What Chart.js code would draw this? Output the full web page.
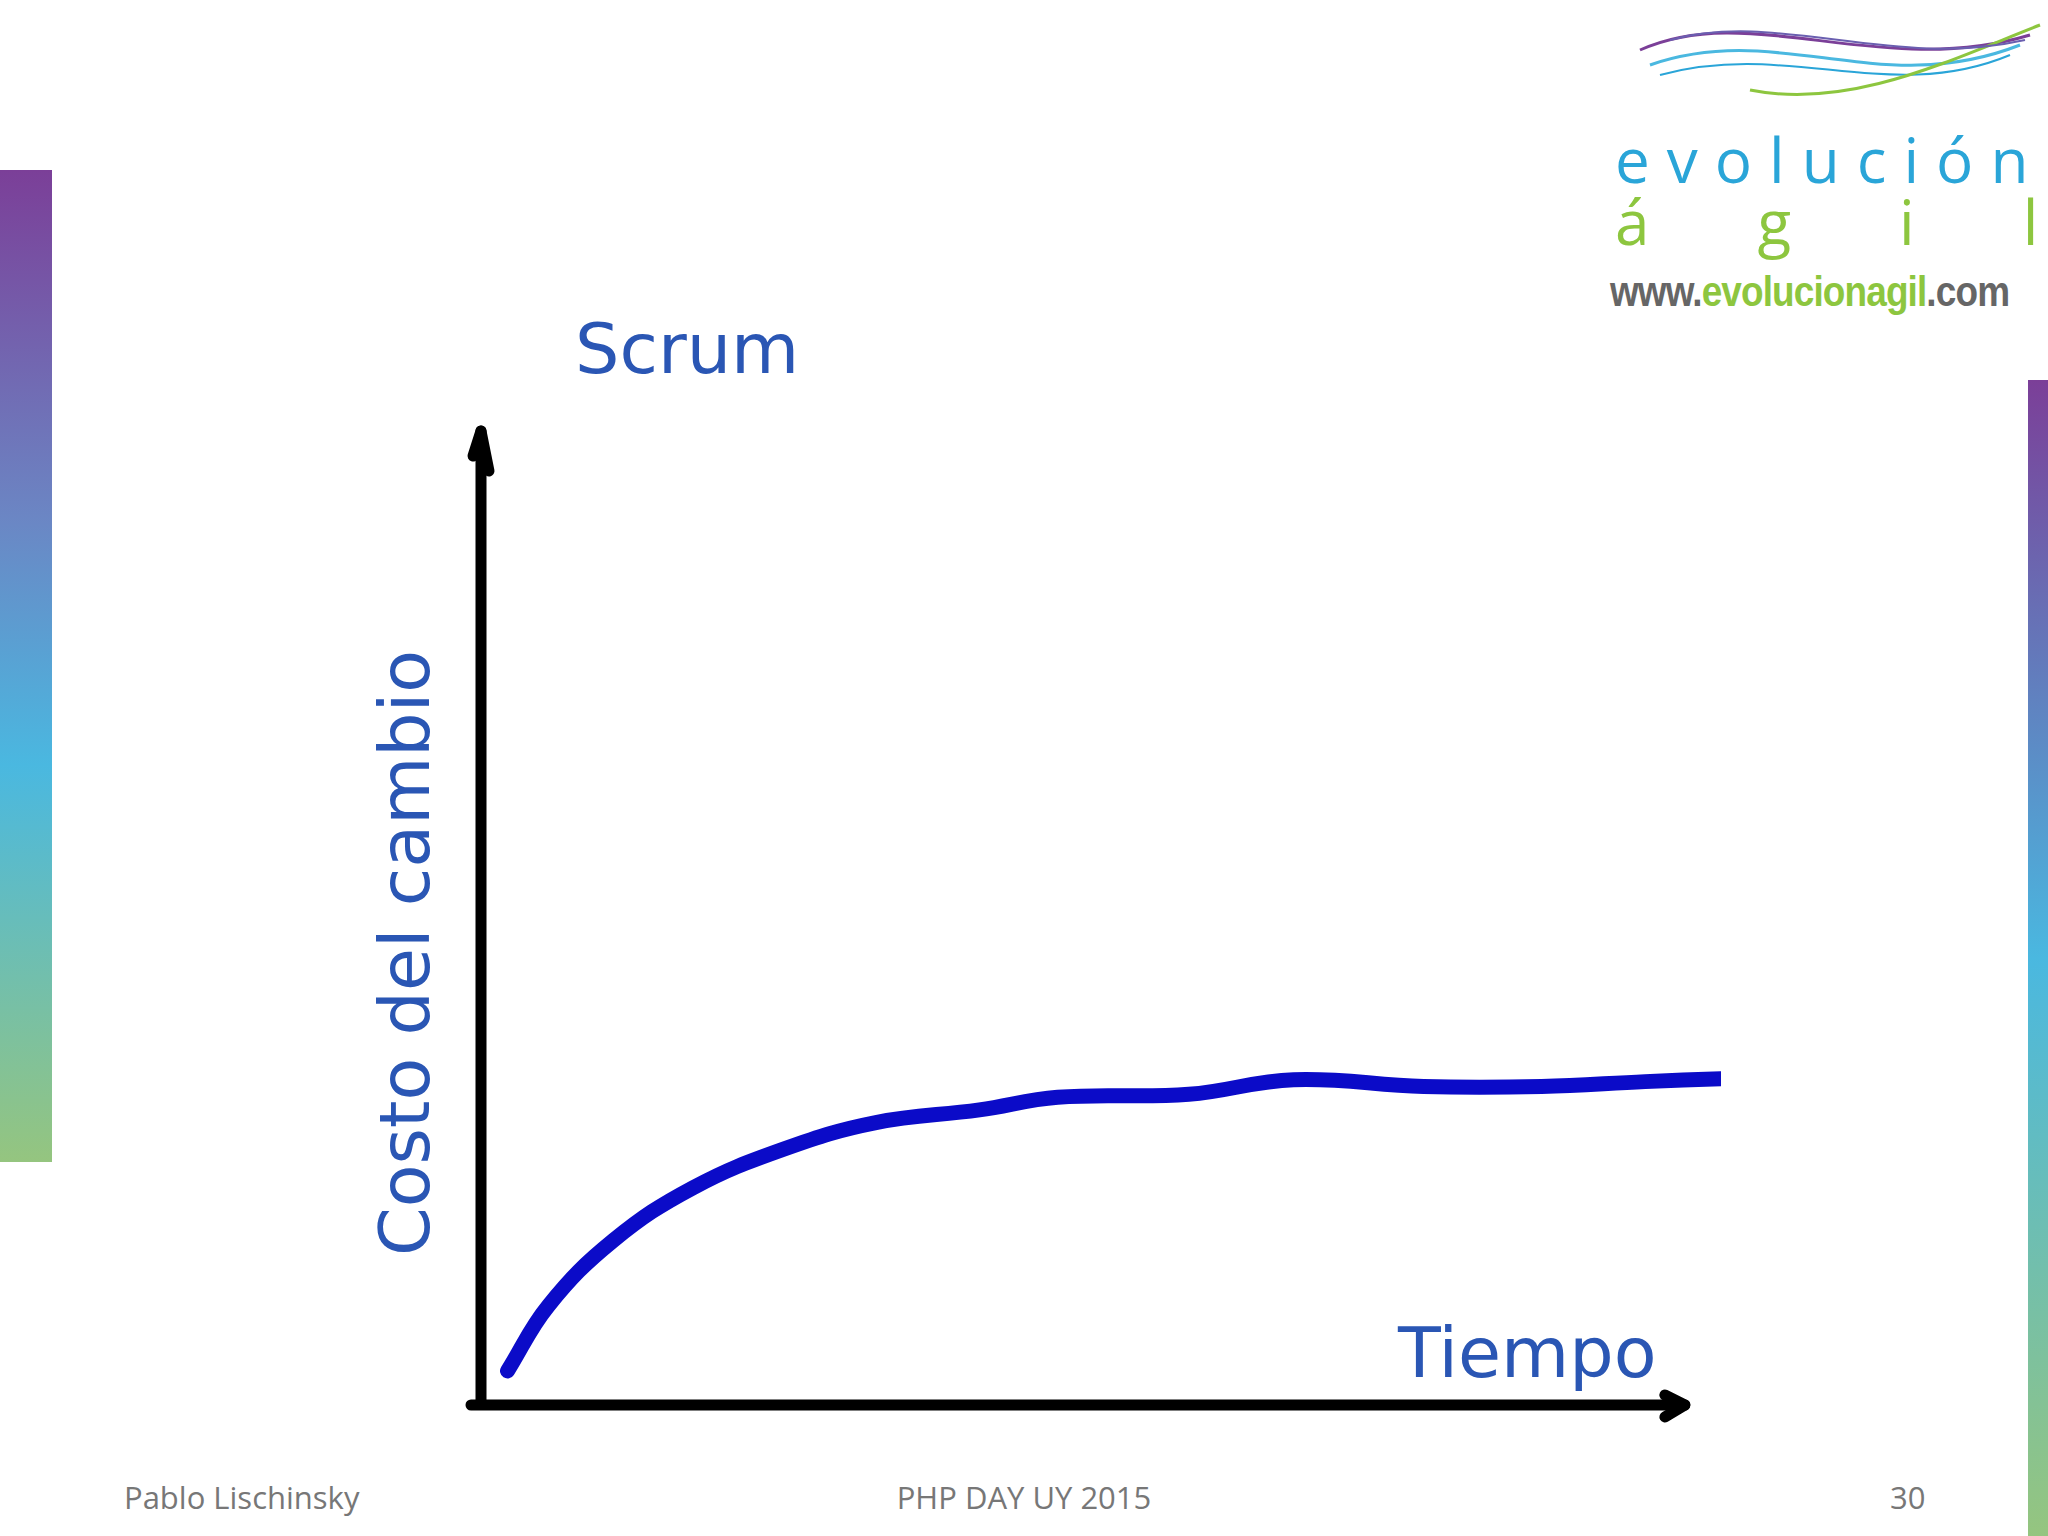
<!DOCTYPE html>
<html><head><meta charset="utf-8">
<script src="https://cdn.jsdelivr.net/npm/chart.js@4"></script>
<style>
body{margin:0;width:2048px;height:1536px;background:#fff;position:relative;overflow:hidden;font-family:"Open Sans",sans-serif}
.t{position:absolute;white-space:nowrap}
.hand{font-family:"DejaVu Sans",sans-serif;color:#2a56b4}
</style></head><body>
<div style="position:absolute;left:0;top:170px;width:52px;height:992px;background:linear-gradient(#7b3f98,#6b86c4 35%,#4ab8e0 60%,#95c57f)"></div>
<div style="position:absolute;left:2028px;top:380px;width:20px;height:1156px;background:linear-gradient(#7b3f98,#4ab8e0 50%,#95c57f)"></div>
<svg style="position:absolute;left:1630px;top:10px" width="420" height="110">
<path d="M10 40 C120 -10 250 70 400 25" stroke="#7b3f98" stroke-width="3" fill="none"/>
<path d="M20 55 C150 10 250 90 390 35" stroke="#4ab8e0" stroke-width="3" fill="none"/>
<path d="M30 65 C160 30 260 95 380 45" stroke="#2aa5d8" stroke-width="2" fill="none"/>
<path d="M120 80 C220 100 320 50 410 15" stroke="#8dc63f" stroke-width="3" fill="none"/>
<path d="M40 30 C150 0 260 60 395 30" stroke="#6a5fb0" stroke-width="2" fill="none"/>
</svg>
<div class="t" style="left:1615px;top:128px;font-size:62px;color:#2aa5d8;letter-spacing:17px;line-height:1">evolución</div>
<div class="t" style="left:1615px;top:190px;font-size:62px;color:#8dc63f;letter-spacing:108px;line-height:1">ágil</div>
<div class="t" style="left:1610px;top:268px;font-family:'Liberation Sans';font-size:42px;color:#666;font-weight:bold;letter-spacing:-1px;transform:scaleX(0.88);transform-origin:left">www.<span style="color:#8dc63f">evolucionagil</span>.com</div>
<div class="t hand" style="left:575px;top:308px;font-size:70px">Scrum</div>
<div class="t hand" style="left:405px;top:953px;font-size:70px;transform:translate(-50%,-50%) rotate(-90deg)">Costo del cambio</div>
<div class="t hand" style="left:1398px;top:1312px;font-size:70px">Tiempo</div>
<div class="t" style="left:124px;top:1476px;font-size:31px;color:#777">Pablo Lischinsky</div>
<div class="t" style="left:1024px;top:1476px;font-size:31px;color:#777;transform:translateX(-50%)">PHP DAY UY 2015</div>
<div class="t" style="left:1890px;top:1476px;font-size:31px;color:#777">30</div>
<canvas id="c" width="2048" height="1536" style="position:absolute;left:0;top:0"></canvas>
<script>
const tiempo=[2.2,5.6,11.0,17.6,25.2,32.8,41.4,47.9,58.8,67.5,78.3,88.1,96.7,103];
const costo=[3.5,10.2,16.9,22.3,26.3,29.0,30.3,31.6,31.9,33.4,32.7,32.7,33.2,33.5];
const axes={id:'axes',beforeDatasetsDraw(ch){const c=ch.ctx,x=ch.scales.x,y=ch.scales.y;
const x0=x.getPixelForValue(0),y0=y.getPixelForValue(0),xe=x.getPixelForValue(100),yt=y.getPixelForValue(100);
c.save();c.strokeStyle='#000';c.lineWidth=11;c.lineCap='round';c.lineJoin='round';
c.beginPath();c.moveTo(x0,y0);c.lineTo(x0,yt);c.moveTo(x0-10,y0);c.lineTo(xe,y0);c.stroke();
c.beginPath();c.moveTo(x0-8,yt+25);c.lineTo(x0,yt);c.lineTo(x0+8,yt+40);c.stroke();
c.beginPath();c.moveTo(xe-20,y0-10);c.lineTo(xe,y0);c.lineTo(xe-20,y0+12);c.stroke();c.restore();}};
new Chart(document.getElementById('c'),{type:'scatter',
data:{datasets:[{data:tiempo.map((t,i)=>({x:t,y:costo[i]})),showLine:true,borderColor:'#0b0bc8',borderWidth:15,pointRadius:0,tension:0.4,borderCapStyle:'round'}]},
options:{responsive:false,animation:false,layout:{padding:{left:481,right:327,top:431,bottom:131}},
plugins:{legend:{display:false},tooltip:{enabled:false}},
scales:{x:{display:false,min:0,max:103},y:{display:false,min:0,max:100}}},plugins:[axes]});
</script></body></html>
